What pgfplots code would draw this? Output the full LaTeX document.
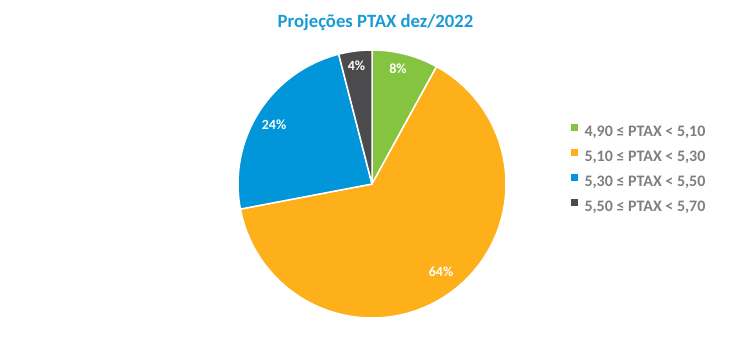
\documentclass[border=0pt]{standalone}
\usepackage{pgfplots}
\pgfplotsset{compat=1.18}
\usepackage{fontspec}
\setmainfont{Carlito}
\definecolor{cgreen}{HTML}{85C441}
\definecolor{corange}{HTML}{FDB019}
\definecolor{cblue}{HTML}{0096D9}
\definecolor{cdark}{HTML}{4B4B4D}
\definecolor{ctitle}{HTML}{1A9BD7}
\definecolor{cgray}{HTML}{7F7F7F}
\begin{document}
\begin{tikzpicture}
\begin{axis}[
  scale only axis, width=750pt, height=355pt,
  xmin=0, xmax=750, ymin=0, ymax=355,
  hide axis, clip=false,
  legend image code/.code={\path (0pt,0pt) -- (13pt,0pt); \fill[#1,draw=none] (0pt,0.5pt) rectangle (7pt,7.5pt);},
  legend cell align=left,
  legend style={at={(axis cs:570,231)}, anchor=north west, draw=none, fill=none,
    inner sep=0pt, outer sep=0pt, row sep=12pt, text=cgray,
    font=\bfseries\fontsize{16}{19}\selectfont,
    nodes={inner sep=0pt, outer sep=0pt, text height=11pt, text depth=0pt}},
]
\path (axis cs:0,0) rectangle (axis cs:750,355);
% 8%, 64%, 24%, 4% clockwise from 12 o'clock
\addplot[fill=cgreen, draw=white, line width=1.5pt, line join=round, domain={90-28.8}:90, samples=30]
  ({372+134*cos(x)},{171+134*sin(x)}) -- (axis cs:372,171) -- cycle;
\addlegendentry{4,90 ≤ PTAX < 5,10}
\addplot[fill=corange, draw=white, line width=1.5pt, line join=round, domain={90-28.8-230.4}:{90-28.8}, samples=150]
  ({372+134*cos(x)},{171+134*sin(x)}) -- (axis cs:372,171) -- cycle;
\addlegendentry{5,10 ≤ PTAX < 5,30}
\addplot[fill=cblue, draw=white, line width=1.5pt, line join=round, domain={90+14.4}:{90+14.4+86.4}, samples=60]
  ({372+134*cos(x)},{171+134*sin(x)}) -- (axis cs:372,171) -- cycle;
\addlegendentry{5,30 ≤ PTAX < 5,50}
\addplot[fill=cdark, draw=white, line width=1.5pt, line join=round, domain=90:{90+14.4}, samples=20]
  ({372+134*cos(x)},{171+134*sin(x)}) -- (axis cs:372,171) -- cycle;
\addlegendentry{5,50 ≤ PTAX < 5,70}
\node[font=\bfseries\fontsize{18.7}{22}\selectfont, text=ctitle, anchor=base] at (axis cs:375.5,327) {Projeções PTAX dez/2022};
\node[font=\bfseries\fontsize{14}{16}\selectfont, text=white, anchor=base] at (axis cs:398,281.7) {8\%};
\node[font=\bfseries\fontsize{14}{16}\selectfont, text=white, anchor=base] at (axis cs:356.5,284) {4\%};
\node[font=\bfseries\fontsize{14}{16}\selectfont, text=white, anchor=base] at (axis cs:274,225) {24\%};
\node[font=\bfseries\fontsize{14}{16}\selectfont, text=white, anchor=base] at (axis cs:441,78) {64\%};
\end{axis}
\end{tikzpicture}
\end{document}
